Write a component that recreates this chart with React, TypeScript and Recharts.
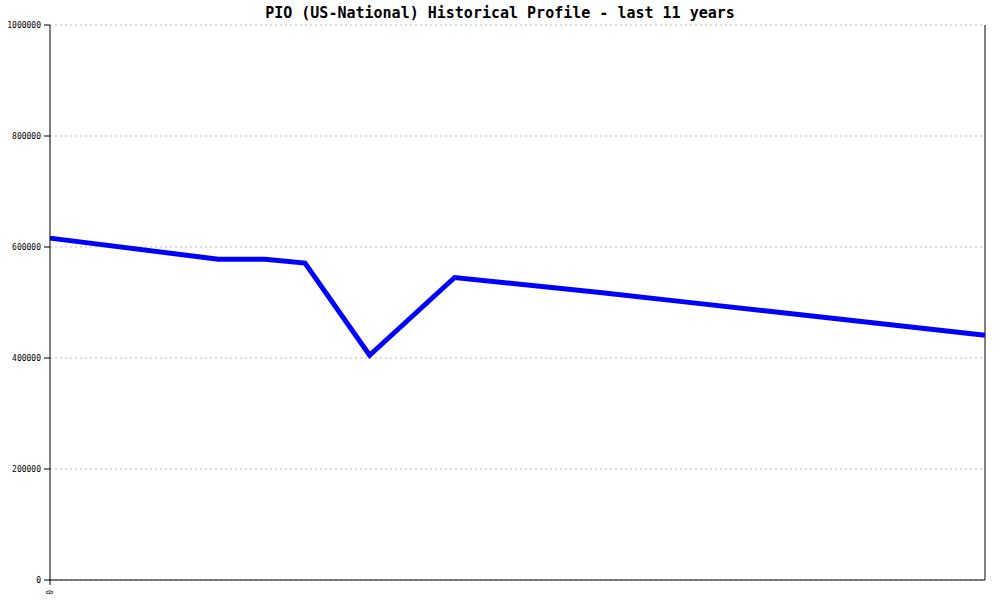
import { LineChart, Line, XAxis, YAxis, CartesianGrid, ReferenceLine } from 'recharts'

const years = [0, 1.98, 2.53, 3.0, 3.76, 4.76, 6.47, 7.41, 8.41, 11]
const population = [616000, 578000, 578000, 571000, 405000, 545000, 518000, 502000, 485000, 441000]
const yTicks = [0, 200000, 400000, 600000, 800000, 1000000]
const xTicks = [0]

const data = years.map((t, i) => ({ t, value: population[i] }))

const mono = 'DejaVu Sans Mono, monospace'

const XTick = ({ x, y, payload }: any) => (
      <text
            transform={`translate(${x},${y + 2}) rotate(-90)`}
            textAnchor="end"
            dy="0.35em"
            fontSize={8}
            fontFamily={mono}
            fill="#000"
      >
            {payload.value}
      </text>
)

export default function App() {
      return (
            <div style={{ position: 'absolute', left: 0, top: 0, width: 1000, height: 600, background: '#fff' }}>
                  <div
                        style={{
                              position: 'absolute',
                              top: 4,
                              left: 0,
                              width: 1000,
                              textAlign: 'center',
                              fontFamily: mono,
                              fontWeight: 'bold',
                              fontSize: 15,
                              lineHeight: '18px',
                              color: '#000'
                        }}
                  >
                        PIO (US-National) Historical Profile - last 11 years
                  </div>
                  <LineChart width={1000} height={600} data={data} margin={{ top: 25, right: 15, left: 0, bottom: 0 }}>
                        <CartesianGrid vertical={false} stroke="#bbb" strokeDasharray="2 3" />
                        <XAxis
                              dataKey="t"
                              type="number"
                              domain={[0, 11]}
                              ticks={xTicks}
                              height={20}
                              stroke="#000"
                              tickSize={5}
                              tickMargin={3}
                              tick={<XTick />}
                        />
                        <YAxis
                              type="number"
                              domain={[0, 1000000]}
                              ticks={yTicks}
                              width={50}
                              stroke="#000"
                              tickSize={6}
                              tickMargin={3}
                              tick={{ fontSize: 8, fontFamily: mono, fill: '#000' }}
                        />
                        <ReferenceLine x={11} stroke="#000" />
                        <Line
                              type="linear"
                              dataKey="value"
                              stroke="#0000ff"
                              strokeWidth={5}
                              dot={false}
                              isAnimationActive={false}
                        />
                  </LineChart>
            </div>
      )
}
